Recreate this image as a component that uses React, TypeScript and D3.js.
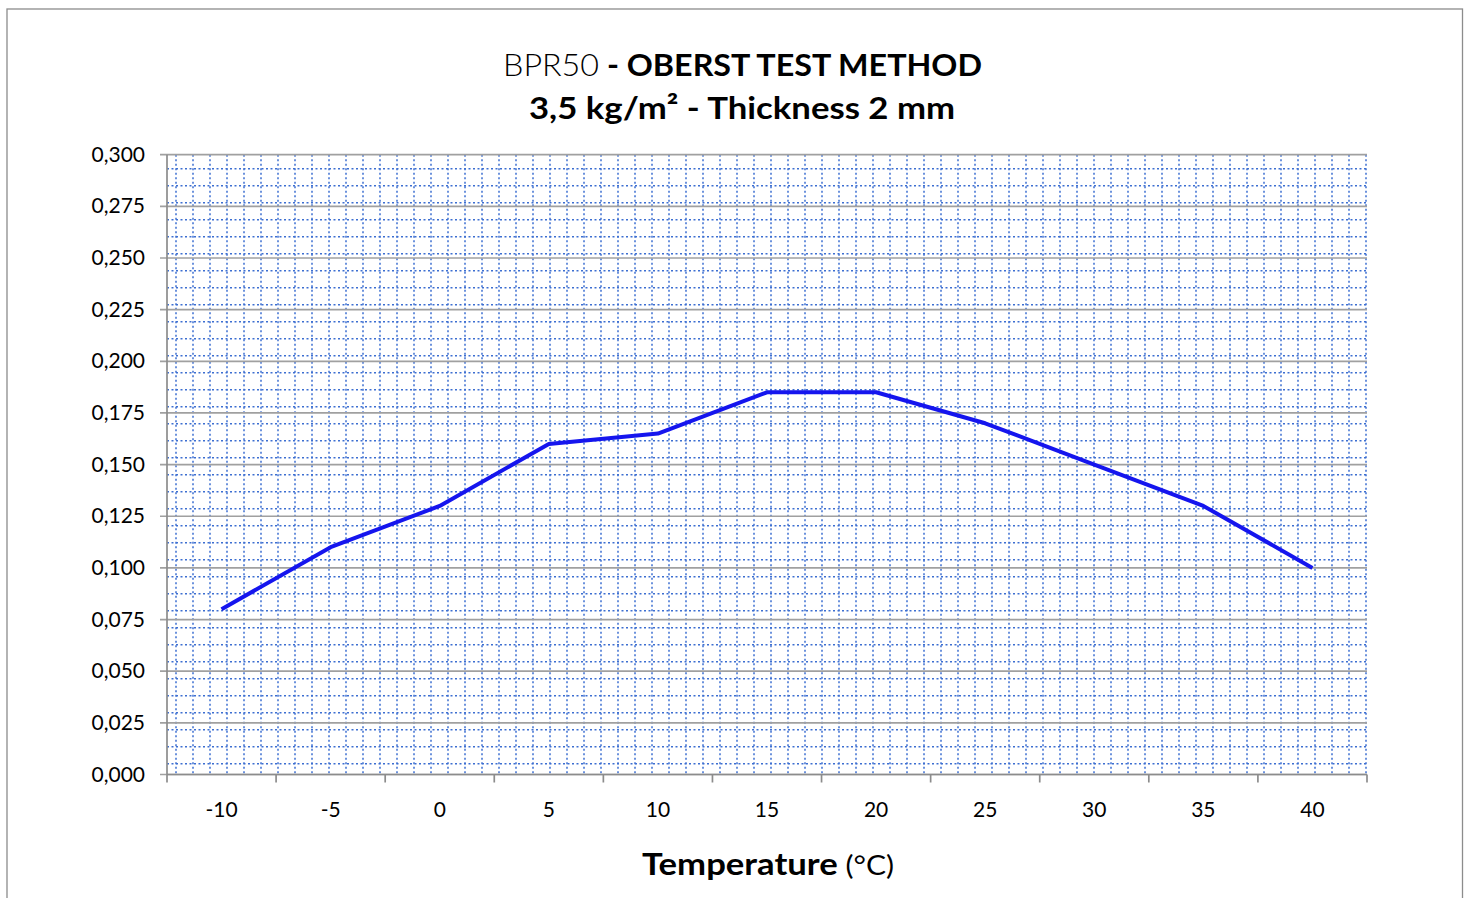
import React from "react";
import * as d3 from "d3";

const temperatures = ["-10", "-5", "0", "5", "10", "15", "20", "25", "30", "35", "40"];
const lossFactor = [0.08, 0.11, 0.13, 0.16, 0.165, 0.185, 0.185, 0.17, 0.15, 0.13, 0.1];
const yTicks = [0, 0.025, 0.05, 0.075, 0.1, 0.125, 0.15, 0.175, 0.2, 0.225, 0.25, 0.275, 0.3];

const W = 1470;
const H = 898;
const M = { left: 167, right: 1367, top: 154.7, bottom: 774.5 };
const FONT = "Lato, 'Open Sans', sans-serif";

export default function App() {
  const x = d3.scaleBand<string>().domain(temperatures).range([M.left, M.right]).padding(0);
  const y = d3.scaleLinear().domain([0, 0.3]).range([M.bottom, M.top]);
  const fmt = (v: number) => v.toFixed(3).replace(".", ",");
  const cx = (c: string) => (x(c) as number) + x.bandwidth() / 2;

  const line = d3
    .line<number>()
    .x((_, i) => cx(temperatures[i]))
    .y((d) => y(d));

  // graph-paper minor grid (decorative)
  const step = 17;
  const vMinor = d3.range(M.left + 9, M.right + 0.5, step);
  const hMinor = d3.range(M.top + 14, M.bottom - 5, step);

  const boundaries = [...temperatures.map((c) => x(c) as number), M.right];

  return (
    <svg
      width={W}
      height={H}
      style={{ position: "absolute", left: 0, top: 0, background: "#fff" }}
      fontFamily={FONT}
    >
      <rect x={7} y={9} width={1455.5} height={H + 20} fill="#fff" stroke="#8c8c8c" strokeWidth={1.3} />

      {/* minor grid */}
      <g stroke="#3d6fd1" strokeWidth={1.5} strokeDasharray="2,2.5">
        {vMinor.map((v, i) => (
          <line key={"v" + i} x1={v} x2={v} y1={M.top} y2={M.bottom} />
        ))}
        {hMinor.map((v, i) => (
          <line key={"h" + i} x1={M.left} x2={M.right} y1={v} y2={v} />
        ))}
      </g>

      {/* major grid + y ticks */}
      <g stroke="#a0a0a0" strokeWidth={1.7}>
        {yTicks.map((t) => (
          <line key={t} x1={M.left - 7} x2={M.right} y1={y(t)} y2={y(t)} />
        ))}
      </g>

      {/* axes */}
      <line x1={M.left} x2={M.left} y1={M.top} y2={M.bottom} stroke="#8c8c8c" strokeWidth={1.7} />
      <line x1={M.left} x2={M.right} y1={M.bottom} y2={M.bottom} stroke="#8c8c8c" strokeWidth={1.7} />
      <g stroke="#8c8c8c" strokeWidth={1.7}>
        {boundaries.map((b, i) => (
          <line key={i} x1={b} x2={b} y1={M.bottom} y2={M.bottom + 8} />
        ))}
      </g>

      {/* y labels */}
      <g fontSize={21} fill="#000" textAnchor="end">
        {yTicks.map((t) => (
          <text key={t} x={145} y={y(t) + 7}>
            {fmt(t)}
          </text>
        ))}
      </g>

      {/* x labels */}
      <g fontSize={21} fill="#000" textAnchor="middle">
        {temperatures.map((c) => (
          <text key={c} x={cx(c)} y={817}>
            {c}
          </text>
        ))}
      </g>

      {/* data line */}
      <path d={line(lossFactor) || ""} fill="none" stroke="#1515ee" strokeWidth={4} strokeLinejoin="round" />

      {/* title */}
      <text x={742.5} y={76} textAnchor="middle" fontSize={31} fill="#000" textLength={479} lengthAdjust="spacingAndGlyphs">
        <tspan fontWeight={300}>BPR50</tspan>
        <tspan fontWeight={700}> - OBERST TEST METHOD</tspan>
      </text>
      <text x={742} y={119} textAnchor="middle" fontSize={31} fontWeight={700} fill="#000" textLength={426} lengthAdjust="spacingAndGlyphs">
        3,5 kg/m² - Thickness 2 mm
      </text>

      {/* x title */}
      <text x={768} y={875} textAnchor="middle" fill="#000" textLength={252} lengthAdjust="spacingAndGlyphs">
        <tspan fontSize={30} fontWeight={700}>Temperature</tspan>
        <tspan fontSize={26}> (°C)</tspan>
      </text>
    </svg>
  );
}
